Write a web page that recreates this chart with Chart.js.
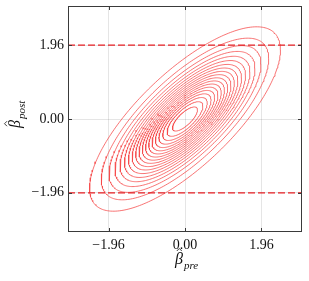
<!DOCTYPE html>
<html>
<head>
<meta charset="utf-8">
<script src="https://cdn.jsdelivr.net/npm/chart.js@4/dist/chart.umd.min.js"></script>
<style>
html,body{margin:0;padding:0;background:#fff;}
#caja{width:309px;height:281px;}
</style>
</head>
<body>
<div id="caja"><canvas id="grafica-contorno"></canvas></div>
<script>
// valores
var marcas=[-1.96,0,1.96];
var cortes=[1.96,-1.96];
var rho=0.75;
// niveles del contorno, relativos al maximo de la densidad
var niveles=[0.05,0.10,0.15,0.20,0.25,0.30,0.35,0.40,0.45,0.50,0.55,0.60,0.65,0.70,0.75,0.80,0.85,0.90,0.95];
var minEje=-3, maxEje=3;

function etiqueta(v){
    return v.toFixed(2).replace("-","\u2212");
}

// curva de nivel de la normal bivariada
function contorno(r){
    var s=Math.sqrt(-2*Math.log(r));
    var c=Math.sqrt(1-rho*rho);
    var pts=[];
    for(var i=0;i<=240;i++){
        var t=i/240*2*Math.PI;
        pts.push({x:s*Math.cos(t), y:s*(rho*Math.cos(t)+c*Math.sin(t))});
    }
    return pts;
}

var datos=[];
cortes.forEach(function(v){
    datos.push({
        data:[{x:minEje,y:v},{x:maxEje,y:v}],
        showLine:true, pointRadius:0,
        borderColor:'rgb(230,30,35)', borderWidth:1.2,
        borderDash:[7,3]
    });
});
niveles.forEach(function(r){
    datos.push({
        data:contorno(r),
        showLine:true, pointRadius:0, tension:0,
        borderColor:'rgba(245,70,70,0.75)', borderWidth:1
    });
});

// beta con gorro y subindice
function beta(ctx,x,y,sub){
    ctx.font='italic 16px "Liberation Serif"';
    ctx.fillText('\u03B2',x,y);
    var w=ctx.measureText('\u03B2').width;
    ctx.beginPath();
    ctx.moveTo(x+w*0.5-2.2,y-13);
    ctx.lineTo(x+w*0.5+0.3,y-15.5);
    ctx.lineTo(x+w*0.5+2.8,y-13);
    ctx.lineWidth=0.8;
    ctx.stroke();
    ctx.font='italic 11px "Liberation Serif"';
    ctx.fillText(sub,x+w+1,y+5);
}

var marco={
    id:'marco',
    afterDraw:function(chart){
        var ctx=chart.ctx, a=chart.chartArea;
        var sx=chart.scales.x, sy=chart.scales.y;
        ctx.save();
        ctx.strokeStyle='#3a3a3a';
        ctx.lineWidth=1;
        ctx.strokeRect(a.left+0.5,a.top+0.5,a.right-a.left-1,a.bottom-a.top-1);
        ctx.beginPath();
        marcas.forEach(function(v){
            var px=Math.round(sx.getPixelForValue(v))+0.5;
            ctx.moveTo(px,a.bottom); ctx.lineTo(px,a.bottom-4);
            ctx.moveTo(px,a.top); ctx.lineTo(px,a.top+4);
            var py=Math.round(sy.getPixelForValue(v))+0.5;
            ctx.moveTo(a.left,py); ctx.lineTo(a.left+4,py);
            ctx.moveTo(a.right,py); ctx.lineTo(a.right-4,py);
        });
        ctx.stroke();

        ctx.fillStyle='#111';
        ctx.strokeStyle='#111';
        ctx.textBaseline='alphabetic';
        ctx.textAlign='left';
        beta(ctx,175,264,'pre');
        ctx.save();
        ctx.translate(20,128);
        ctx.rotate(-Math.PI/2);
        beta(ctx,0,0,'post');
        ctx.restore();
        ctx.restore();
    }
};

function ejeComun(){
    return {
        type:'linear', min:minEje, max:maxEje,
        afterBuildTicks:function(s){ s.ticks=marcas.map(function(v){return {value:v};}); },
        grid:{color:'rgba(0,0,0,0.1)', lineWidth:1, drawTicks:false},
        border:{display:false},
        ticks:{
            color:'#111', font:{family:'"Liberation Serif"', size:14},
            callback:function(v){ return etiqueta(v); }
        }
    };
}

var ejeX=ejeComun();
ejeX.ticks.padding=5;
ejeX.afterFit=function(s){ s.height=49; s.paddingLeft=0; s.paddingRight=0; };
var ejeY=ejeComun();
ejeY.ticks.padding=4;
ejeY.afterFit=function(s){ s.width=68; s.paddingTop=0; s.paddingBottom=0; };

var graficacontexto=document.getElementById("grafica-contorno");
var grafica=new Chart(graficacontexto,{
    type:'scatter',
    data:{datasets:datos},
    options:{
        responsive:true, maintainAspectRatio:false, animation:false,
        layout:{padding:{top:6,right:7,left:0,bottom:0}},
        plugins:{legend:{display:false}, tooltip:{enabled:false}},
        scales:{x:ejeX, y:ejeY}
    },
    plugins:[marco]
});
</script>
</body>
</html>
